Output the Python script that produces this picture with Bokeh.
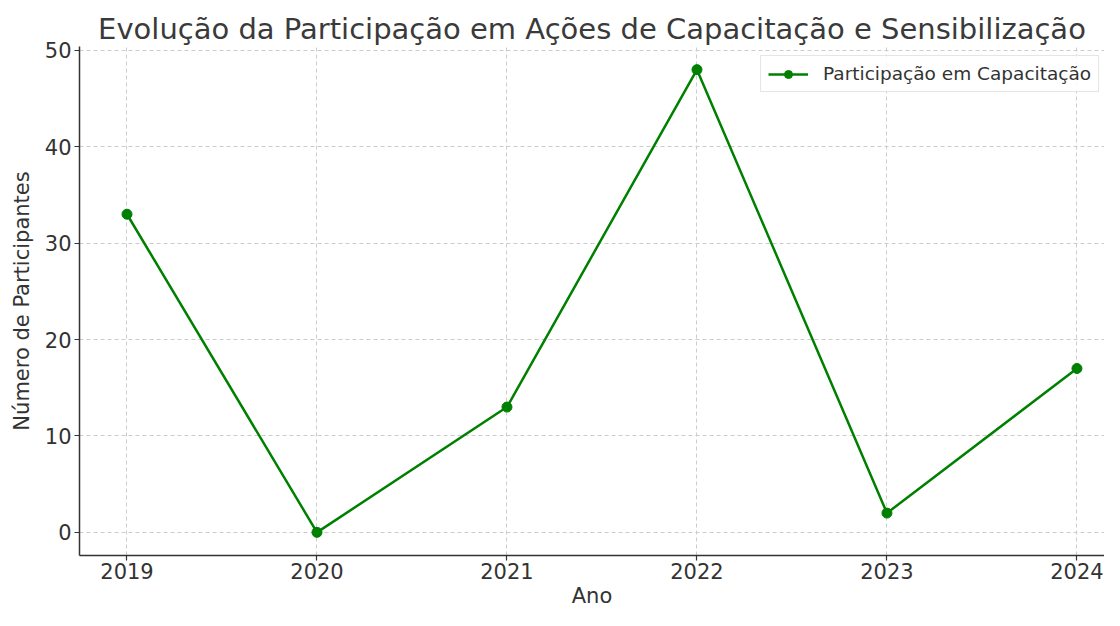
from bokeh.plotting import figure
from bokeh.models import FixedTicker, Range1d, Legend, LegendItem, BasicTickFormatter
from bokeh.embed import file_html
from bokeh.resources import INLINE

years = [2019, 2020, 2021, 2022, 2023, 2024]
participants = [33, 0, 13, 48, 2, 17]
y_ticks = [0, 10, 20, 30, 40, 50]

FONT = "DejaVu Sans"
TXT = "#333333"
GREEN = "#008000"

p = figure(width=1104, height=610, output_backend="svg", toolbar_location=None,
           x_range=Range1d(2018.75, 2024.145), y_range=Range1d(-2.4, 50.4),
           min_border_left=79, min_border_right=0, min_border_top=46, min_border_bottom=50)

p.title.text = "Evolução da Participação em Ações de Capacitação e Sensibilização"
p.title.text_font = FONT
p.title.text_font_size = "29px"
p.title.text_font_style = "normal"
p.title.text_color = "#3a3a3a"
p.title.align = "center"
p.title.standoff = 2

p.outline_line_color = None
p.background_fill_color = "white"
p.border_fill_color = "white"

r = p.line(years, participants, line_color=GREEN, line_width=2.5)
s = p.scatter(years, participants, size=10, fill_color=GREEN, line_color=GREEN)

legend = Legend(items=[LegendItem(label="Participação em Capacitação", renderers=[r, s])],
                location=(681, 463))
legend.label_text_font = FONT
legend.label_text_font_size = "18.5px"
legend.label_text_color = TXT
legend.border_line_color = "#cccccc"
legend.border_line_width = 1
legend.background_fill_alpha = 0.85
legend.margin = 0
legend.padding = 7
legend.glyph_width = 40
legend.label_standoff = 15
legend.spacing = 0
p.add_layout(legend)

for ax in (p.xaxis[0], p.yaxis[0]):
    ax.axis_line_color = TXT
    ax.axis_line_width = 1.5
    ax.major_tick_line_color = TXT
    ax.major_tick_line_width = 1.2
    ax.major_tick_out = 5
    ax.major_tick_in = 0
    ax.minor_tick_line_color = None
    ax.major_label_text_font = FONT
    ax.major_label_text_font_size = "21px"
    ax.major_label_text_color = TXT
    ax.axis_label_text_font = FONT
    ax.axis_label_text_font_size = "21px"
    ax.axis_label_text_font_style = "normal"
    ax.axis_label_text_color = TXT

p.xaxis.major_label_standoff = 2
p.xaxis.axis_label_standoff = 2
p.yaxis.major_label_standoff = 3
p.yaxis.axis_label_standoff = 8

p.xaxis.ticker = FixedTicker(ticks=years)
p.xaxis.formatter = BasicTickFormatter(use_scientific=False)
p.yaxis.ticker = FixedTicker(ticks=y_ticks)
p.xaxis.axis_label = "Ano"
p.yaxis.axis_label = "Número de Participantes"

p.grid.grid_line_color = "#cccccc"
p.grid.grid_line_dash = "4 3"
p.grid.grid_line_width = 1

open("out.html", "w").write(file_html(p, INLINE))
